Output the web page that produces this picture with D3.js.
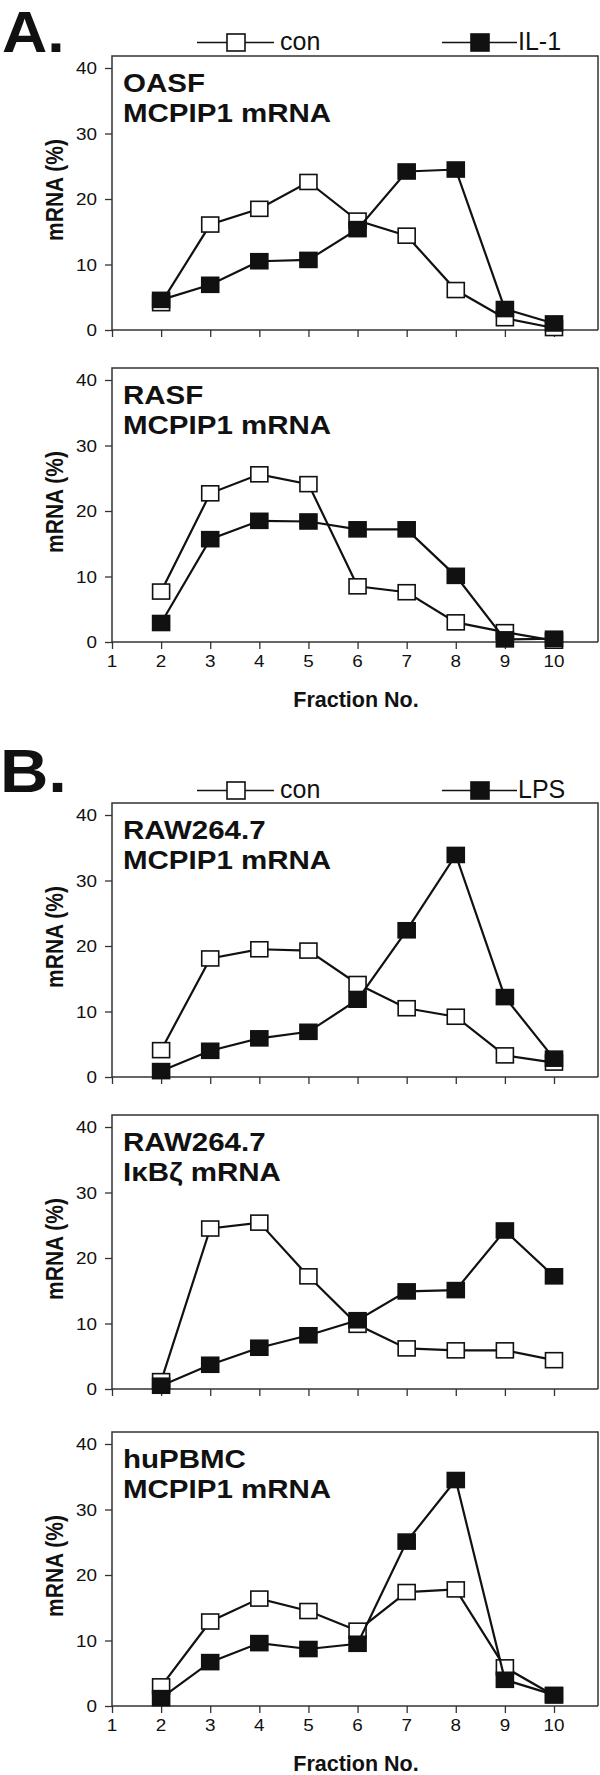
<!DOCTYPE html>
<html>
<head>
<meta charset="utf-8">
<script src="https://cdn.jsdelivr.net/npm/d3@7"></script>
<style>
  body { margin: 0; background: #fff; }
  svg { display: block; font-family: 'Liberation Sans', Arial, sans-serif; }
</style>
</head>
<body>
<svg></svg>
<script>
const fractions = [2, 3, 4, 5, 6, 7, 8, 9, 10]
const xTicks = [1, 2, 3, 4, 5, 6, 7, 8, 9, 10]
const yTicks = [0, 10, 20, 30, 40]

const titles = [
  ['OASF', 'MCPIP1 mRNA'],
  ['RASF', 'MCPIP1 mRNA'],
  ['RAW264.7', 'MCPIP1 mRNA'],
  ['RAW264.7', 'IκBζ mRNA'],
  ['huPBMC', 'MCPIP1 mRNA']
]

const conValues = [
  [4.1, 16.1, 18.5, 22.6, 16.7, 14.4, 6.1, 1.8, 0.3],
  [7.7, 22.7, 25.6, 24.1, 8.5, 7.6, 3.0, 1.5, 0.2],
  [4.1, 18.1, 19.5, 19.3, 14.2, 10.5, 9.2, 3.3, 2.2],
  [1.2, 24.5, 25.4, 17.2, 9.8, 6.2, 5.9, 5.9, 4.4],
  [3.0, 12.9, 16.4, 14.5, 11.5, 17.4, 17.8, 5.9, 1.6]
]

const treatedValues = [
  [4.6, 6.9, 10.5, 10.7, 15.4, 24.2, 24.5, 3.2, 1.0],
  [2.9, 15.7, 18.5, 18.4, 17.2, 17.2, 10.1, 0.4, 0.5],
  [0.9, 4.0, 5.9, 6.9, 11.8, 22.4, 33.9, 12.2, 2.8],
  [0.5, 3.7, 6.3, 8.2, 10.5, 14.9, 15.1, 24.2, 17.2],
  [1.2, 6.7, 9.6, 8.7, 9.5, 25.1, 34.5, 4.0, 1.7]
]

const sections = [
  { letter: 'A.', labels: ['con', 'IL-1'], panels: [0, 1] },
  { letter: 'B.', labels: ['con', 'LPS'], panels: [2, 3, 4] }
]
const showXLabels = [false, true, false, false, true]

// layout (px)
const W = 600, H = 1775
const panelTops = [56, 368, 803, 1115, 1432]
const panelH = 274
const plotLeft = 112, plotRight = 598
const sectionTops = [0, 745]
const stretch = 1.18

const svg = d3.select('svg').attr('width', W).attr('height', H)

const x = d3.scaleLinear().domain([1, 10]).range([plotLeft, 554])
const yPx = 262 / 40

function stretchText(g, tx, ty, txt, size, weight, anchor) {
  return g.append('text')
    .attr('transform', `translate(${tx},${ty}) scale(${stretch},1)`)
    .attr('font-size', size)
    .attr('font-weight', weight || 'normal')
    .attr('text-anchor', anchor || 'start')
    .attr('fill', '#111')
    .text(txt)
}

function marker(g, cx, cy, filled, w, h) {
  g.append('rect')
    .attr('x', cx - w / 2).attr('y', cy - h / 2)
    .attr('width', w).attr('height', h)
    .attr('fill', filled ? '#111' : '#fff')
    .attr('stroke', '#111')
    .attr('stroke-width', 1.6)
}

// section letters and legends
sections.forEach((s, si) => {
  const top = sectionTops[si]
  const g = svg.append('g')
  g.append('text')
    .attr('transform', `translate(${si === 0 ? 2 : 0},${top + (si === 0 ? 52 : 47)}) scale(1.08,1)`)
    .attr('font-size', si === 0 ? 58 : 62)
    .attr('font-weight', 'bold')
    .attr('fill', '#111')
    .text(s.letter)

  const ly = top + (si === 0 ? 42.5 : 45.5)
  const items = [
    { x0: 197, x1: 274, mx: 236, tx: 280, filled: false },
    { x0: 442, x1: 517, mx: 480, tx: 518, filled: true }
  ]
  items.forEach((it, i) => {
    g.append('line')
      .attr('x1', it.x0).attr('x2', it.x1)
      .attr('y1', ly).attr('y2', ly)
      .attr('stroke', '#111').attr('stroke-width', 1.3)
    marker(g, it.mx, ly, it.filled, 18, 17)
    g.append('text')
      .attr('x', it.tx).attr('y', ly + 7.5)
      .attr('font-size', 25)
      .attr('fill', '#111')
      .text(s.labels[i])
  })
})

// panels
titles.forEach((title, p) => {
  const top = panelTops[p]
  const bottom = top + panelH
  const y = d3.scaleLinear().domain([0, 40]).range([bottom, bottom - 40 * yPx])
  const g = svg.append('g')

  // frame
  g.append('path')
    .attr('d', `M${plotLeft},${bottom}V${top}H${plotRight}V${bottom}`)
    .attr('fill', 'none')
    .attr('stroke', '#333')
    .attr('stroke-width', 1.5)

  // y axis
  const yAxis = g.append('g')
    .attr('transform', `translate(${plotLeft},0)`)
    .call(d3.axisLeft(y).tickValues(yTicks).tickSize(7).tickFormat(''))
  yAxis.select('.domain').remove()
  yAxis.selectAll('line').attr('stroke', '#333').attr('stroke-width', 1.3)
  yTicks.forEach(t => {
    stretchText(g, 97, y(t) + 6, String(t), 16, 'normal', 'end')
  })

  // x axis
  const xAxis = g.append('g')
    .attr('transform', `translate(0,${bottom})`)
    .call(d3.axisBottom(x).tickValues(xTicks).tickSize(7).tickFormat(''))
  xAxis.select('.domain').attr('d', `M${plotLeft},0H${plotRight}`)
    .attr('stroke', '#333').attr('stroke-width', 1.5)
  xAxis.selectAll('line').attr('stroke', '#333').attr('stroke-width', 1.3)
  if (showXLabels[p]) {
    xTicks.forEach(t => {
      stretchText(g, x(t), bottom + 25, String(t), 16, 'normal', 'middle')
    })
    g.append('text')
      .attr('x', 356).attr('y', bottom + 65)
      .attr('font-size', 21.5)
      .attr('font-weight', 'bold')
      .attr('text-anchor', 'middle')
      .attr('fill', '#111')
      .text('Fraction No.')
  }

  // y label
  g.append('text')
    .attr('transform', `translate(63,${top + panelH / 2 - 3}) rotate(-90) scale(1,${stretch})`)
    .attr('font-size', 21)
    .attr('font-weight', 'bold')
    .attr('text-anchor', 'middle')
    .attr('fill', '#111')
    .text('mRNA (%)')

  // title
  stretchText(g, 123, top + 36, title[0], 25, 'bold')
  stretchText(g, 123, top + 65.5, title[1], 25, 'bold')

  // series
  const line = d3.line().x((d, i) => x(fractions[i])).y(d => y(d))
  ;[conValues[p], treatedValues[p]].forEach((vals, si) => {
    g.append('path')
      .attr('d', line(vals))
      .attr('fill', 'none')
      .attr('stroke', '#111')
      .attr('stroke-width', 2.2)
    vals.forEach((v, i) => marker(g, x(fractions[i]), y(v), si === 1, 17, 15))
  })
})
</script>
</body>
</html>
